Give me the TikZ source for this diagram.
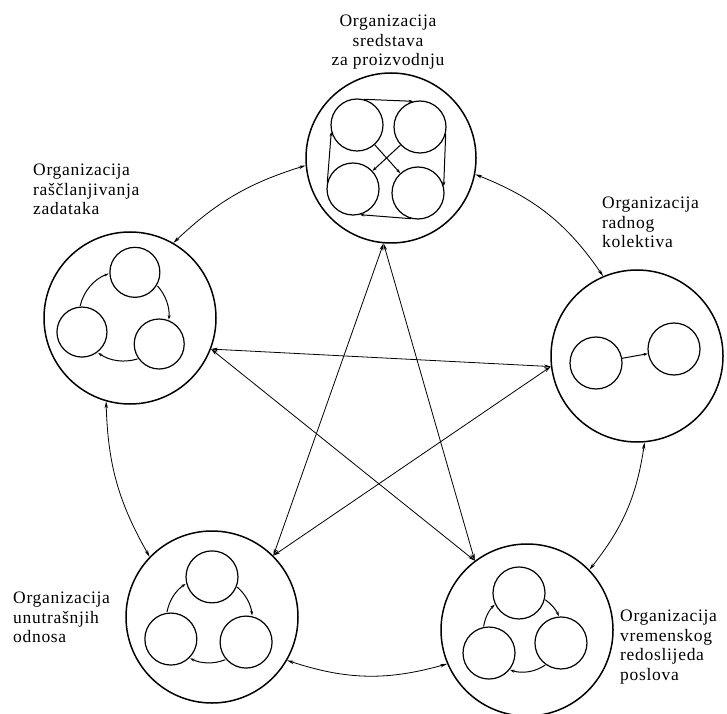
\documentclass[tikz,border=0pt]{standalone}
\usepackage{fontspec}
\setmainfont{Liberation Serif}[LetterSpace=4]
\usetikzlibrary{arrows.meta}
\begin{document}
\begin{tikzpicture}[x=1pt,y=1pt,
  big/.style={circle,draw,line width=1.5pt,minimum size=172pt,inner sep=0pt},
  small/.style={circle,draw,fill=white,line width=1.2pt,minimum size=50pt,inner sep=0pt},
  conn/.style={line width=0.8pt,{Stealth[length=7pt,width=3.5pt]}-{Stealth[length=7pt,width=3.5pt]}},
  loopc/.style={line width=1pt,-{Stealth[length=4.5pt,width=3pt]}},
  lab/.style={font=\fontsize{17.5}{19.5}\selectfont,inner sep=0pt,align=left,anchor=north west}
]
\useasboundingbox (0,0) rectangle (727,713);

% big circles
\node[big,minimum size=170pt] (T) at (391,555) {};
\node[big] (L) at (130,395) {};
\node[big] (R) at (637,357) {};
\node[big] (BL) at (212,96) {};
\node[big] (BR) at (527,83) {};

% outer arcs
\draw[conn] (T.185) to[bend right=13] (L.60);
\draw[conn] (L.254) to[bend right=14] (BL.136);
\draw[conn] (BL.-30) to[bend right=17] (BR.203);
\draw[conn] (BR.44) to[bend right=15] (R.275);
\draw[conn] (R.113) to[bend right=17] (T.349);

% star
\draw[conn] (T.265) -- (BL.45);
\draw[conn] (T.265) -- (BR.127);
\draw[conn] (L.339) -- (R.187);
\draw[conn] (L.339) -- (BR.127);
\draw[conn] (R.187) -- (BL.45);

% top inner
\node[small,minimum size=52pt] (T1) at (357,588) {};
\node[small,minimum size=52pt] (T2) at (420,586) {};
\node[small,minimum size=52pt] (T3) at (353,524) {};
\node[small,minimum size=52pt] (T4) at (418,520) {};
\draw[loopc] (T1.75) -- (T2.105);
\draw[loopc] (T2.-15) -- (T4.15);
\draw[loopc] (T4.-105) -- (T3.-75);
\draw[loopc] (T3.165) -- (T1.195);
\draw[loopc] (T1) -- (T4);
\draw[loopc] (T2) -- (T3);

% left inner
\coordinate (Lc) at (124,397);
\node[small] (L1) at ([shift={(76:45)}]Lc) {};
\node[small] (L2) at ([shift={(-38.5:45)}]Lc) {};
\node[small] (L3) at ([shift={(-159.1:45)}]Lc) {};
\foreach \a/\b in {76/-38.5, -38.5/-159.1, -159.1/-284}{
  \draw[loopc] ([shift={(\a-34:45)}]Lc) arc[start angle=\a-34, end angle=\b+34, radius=45];
}

% right inner
\node[small,minimum size=52pt] (R1) at (596,350) {};
\node[small,minimum size=52pt] (R2) at (674,364) {};
\draw[loopc] (R1) -- (R2);

% bottom-left inner
\coordinate (BLc) at (209.3,93.2);
\node[small,minimum size=52pt] (BL1) at ([shift={(86.4:43)}]BLc) {};
\node[small,minimum size=52pt] (BL2) at ([shift={(-31.2:43)}]BLc) {};
\node[small,minimum size=52pt] (BL3) at ([shift={(-153.4:43)}]BLc) {};
\foreach \a/\b in {86.4/-31.2, -31.2/-153.4, -153.4/-273.6}{
  \draw[loopc] ([shift={(\a-37:43)}]BLc) arc[start angle=\a-37, end angle=\b+37, radius=43];
}

% bottom-right inner
\coordinate (BRc) at (522.8,80.6);
\node[small,minimum size=52pt] (BR1) at ([shift={(95.5:39.6)}]BRc) {};
\node[small,minimum size=52pt] (BR2) at ([shift={(-15.5:39.6)}]BRc) {};
\node[small,minimum size=52pt] (BR3) at ([shift={(-148.6:39.6)}]BRc) {};
\foreach \a/\b in {95.5/-15.5, -15.5/-148.6, -148.6/-264.5}{
  \draw[loopc] ([shift={(\a-40:39.6)}]BRc) arc[start angle=\a-40, end angle=\b+40, radius=39.6];
}

% labels
\node[lab,anchor=north,align=center] (tTop) at (388,698) {Organizacija\\sredstava\\za proizvodnju};
\node[lab] (tL) at (33,549) {Organizacija\\raščlanjivanja\\zadataka};
\node[lab] (tR) at (602,516) {Organizacija\\radnog\\kolektiva};
\node[lab] (tBL) at (13,121) {Organizacija\\unutrašnjih\\odnosa};
\node[lab] (tBR) at (620,103) {Organizacija\\vremenskog\\redoslijeda\\poslova};
\end{tikzpicture}
\end{document}
